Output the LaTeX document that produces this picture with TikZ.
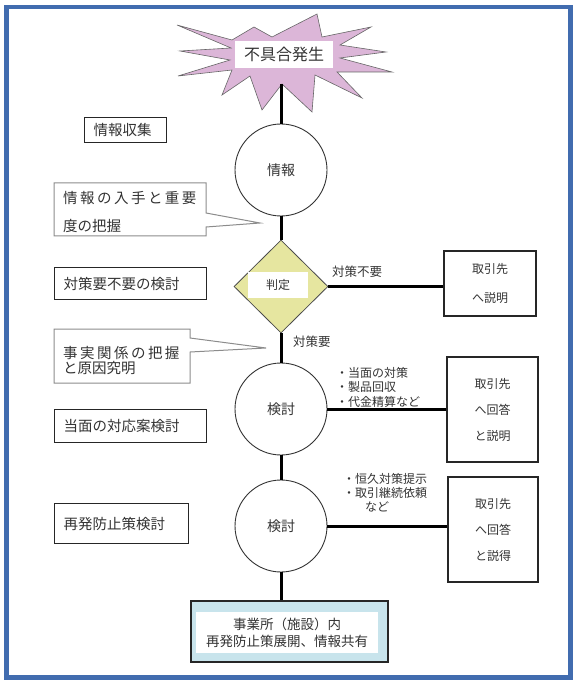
\documentclass[tikz,border=0pt]{standalone}
\usepackage{fontspec}
\setmainfont{Noto Sans CJK JP}
\newfontfamily\spacedfont[LetterSpace=17]{Noto Sans CJK JP}
\usetikzlibrary{shapes.geometric}

\begin{document}
\begin{tikzpicture}
		[x=1pt,y=-1pt,line cap=butt,
		%Styles
		every node/.append style={text=black!80},
		connector/.style={line width=3pt},
		stage box/.style={draw=black!85,line width=1.1pt,align=left,inner xsep=9pt,anchor=north west,font=\fontsize{14.5}{17}\selectfont},
		note box/.style={draw=black!45,line width=1pt,fill=white},
		note text/.style={anchor=north west,align=left,inner sep=0pt},
		stage circle/.style={circle,draw=black!80,line width=.9pt,minimum size=92pt,inner sep=0pt,font=\fontsize{14}{16}\selectfont},
		partner box/.style={draw=black!85,line width=1.1pt,align=center,font=\fontsize{12}{26}\selectfont},
		side label/.style={anchor=west,inner sep=0pt,align=left,font=\fontsize{12.5}{14.5}\selectfont},
		white label/.style={fill=white,inner sep=0pt}
		]
		
		%Colors
		\definecolor{framecolor}{RGB}{65,108,175}
		\definecolor{burstpink}{RGB}{220,182,216}
		\definecolor{judgeyellow}{RGB}{230,230,160}
		\definecolor{sharecyan}{RGB}{200,228,236}
		
		\useasboundingbox (0,0) rectangle (576,684);
		\draw[framecolor,line width=4.5pt] (6.5,7) rectangle (570.5,677.5);
		
		%The burst
		\filldraw[fill=burstpink,draw=black!60,line width=.6pt,line join=miter]
			(177,25) -- (232,40) -- (254,27) -- (272,37) -- (317,14) -- (322,37)
			-- (371,27) -- (340,45) -- (386,52) -- (340,58) -- (392,72) -- (337,72)
			-- (362,98) -- (315,75) -- (312,112) -- (282,84) -- (262,110) -- (250,76)
			-- (222,95) -- (232,70) -- (178,76) -- (230,60) -- (180,51) -- (231,48) -- cycle;
		\coordinate (burst foot) at (281,84);
		\node[white label,minimum width=98pt,minimum height=27pt,font=\fontsize{16}{18}\selectfont] (trouble) at (284,54.5) {不具合発生};
		
		%Centre column
		\node[stage circle] (info) at (281,170) {情報};
		\node[diamond,draw=black!70,fill=judgeyellow,line width=.8pt,minimum width=94pt,minimum height=93pt,inner sep=0pt] (judge) at (281,286.5) {};
		\node[white label,minimum width=60pt,minimum height=26pt,font=\fontsize{12}{14}\selectfont] (judge text) at (278,285) {判定};
		\node[stage circle] (review) at (281,409) {検討};
		\node[stage circle] (prevent) at (281,526) {検討};
		\node[draw=black!85,line width=1.1pt,fill=sharecyan,minimum width=197pt,minimum height=61pt] (share) at (289.5,631.5) {};
		\node[white label,minimum width=182pt,minimum height=41pt,align=center,font=\fontsize{13.5}{17}\selectfont] (share text) at (287,632.5) {事業所（施設）内\\再発防止策展開、情報共有};
		
		\draw[connector] (burst foot) -- (info.north);
		\draw[connector] (info.south) -- (judge.north);
		\draw[connector] (judge.south) -- (review.north);
		\draw[connector] (review.south) -- (prevent.north);
		\draw[connector] (prevent.south) -- (prevent.south |- share.north);
		
		%Partner boxes
		\node[partner box,minimum width=92pt,minimum height=65pt,font=\fontsize{12}{29}\selectfont] (explain) at (490,283.5) {取引先\\へ説明};
		\node[partner box,minimum width=91pt,minimum height=105pt] (answer) at (492.5,409.5) {取引先\\へ回答\\と説明};
		\node[partner box,minimum width=90pt,minimum height=105pt] (persuade) at (493,529.5) {取引先\\へ回答\\と説得};
		
		\draw[connector] (judge.east) -- (judge.east -| explain.west);
		\draw[connector] (review.east) -- (review.east -| answer.west);
		\draw[connector] (prevent.east) -- (prevent.east -| persuade.west);
		
		\node[side label] (no measure) at (332,272) {対策不要};
		\node[side label] (measure) at (293,342) {対策要};
		\node[side label,font=\fontsize{12}{14.5}\selectfont] (first actions) at (336,387) {・当面の対策\\・製品回収\\・代金精算など};
		\node[side label,font=\fontsize{12}{14}\selectfont] (lasting actions) at (343,493) {・恒久対策提示\\・取引継続依頼\\\hspace{22pt}など};
		
		%Stage boxes
		\node[stage box,text width=64pt,minimum height=25pt] (collect) at (84,117) {情報収集};
		\node[stage box,text width=134pt,minimum height=32pt] (need check) at (54,267) {対策要不要の検討};
		\node[stage box,text width=134pt,minimum height=33pt] (interim) at (54,409) {当面の対応案検討};
		\node[stage box,text width=116pt,minimum height=40pt] (recurrence) at (54,503) {再発防止策検討};
		
		%Callouts
		\coordinate (grasp tip) at (260,223);
		\filldraw[note box] (54,183) -- (206,183) -- (206,213) -- (grasp tip) -- (206,227) -- (206,236) -- (54,236) -- cycle;
		\node[note text,font=\fontsize{14.5}{28}\selectfont] (grasp) at (63,191.5) {{\spacedfont 情報の入手と重要}\\度の把握};
		
		\coordinate (cause tip) at (266,348);
		\filldraw[note box] (54,329) -- (190,329) -- (190,338) -- (cause tip) -- (190,352) -- (190,383) -- (54,383) -- cycle;
		\node[note text,font=\fontsize{14.5}{14.5}\selectfont] (cause) at (63,346.5) {{\spacedfont 事実関係の把握}\\と原因究明};
	\end{tikzpicture}
\end{document}
